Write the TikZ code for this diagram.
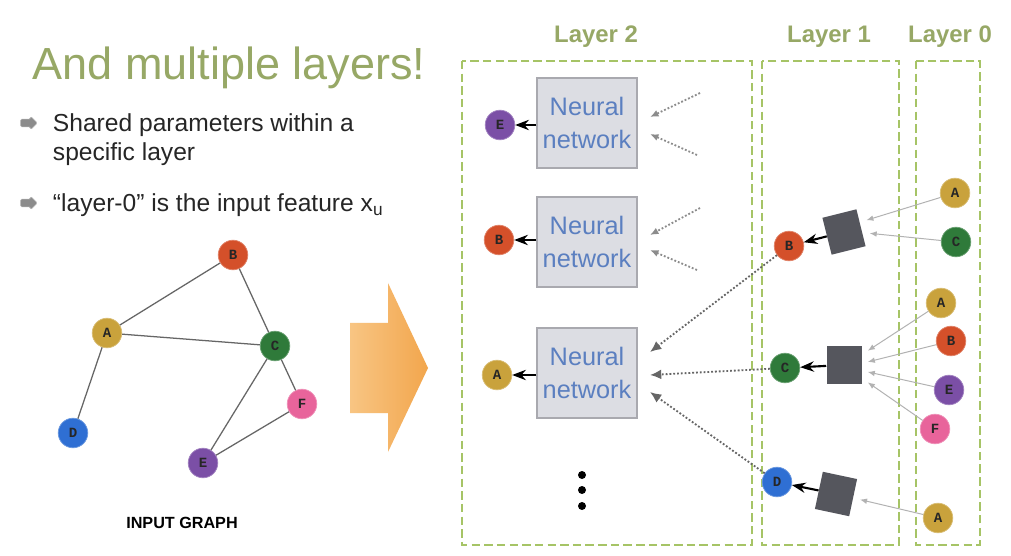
\documentclass[tikz,border=0pt]{standalone}
\usepackage{fontspec}
\setmainfont{Liberation Sans}
\newfontfamily\vlabel{Liberation Mono}
\usetikzlibrary{arrows.meta,calc,shapes.arrows}
\definecolor{ttlgreen}{HTML}{97A866}
\definecolor{boxgreen}{HTML}{A6C466}
\definecolor{colA}{HTML}{C9A23C}
\definecolor{colB}{HTML}{D4502A}
\definecolor{colC}{HTML}{2F7A3A}
\definecolor{colD}{HTML}{2F6FD3}
\definecolor{colE}{HTML}{7B4FA6}
\definecolor{colF}{HTML}{E8649B}
\definecolor{nnfill}{HTML}{DCDDE3}
\definecolor{nnline}{HTML}{A9A9AF}
\definecolor{nntext}{HTML}{5B7FC0}
\definecolor{sqfill}{HTML}{55565D}
\definecolor{arrlight}{HTML}{F8C583}
\definecolor{arrdark}{HTML}{F2A64D}

\begin{document}
\begin{tikzpicture}[x=0.025cm,y=-0.025cm,>=Stealth,
  vtx/.style={circle,fill=#1,draw=#1!70!white,line width=.5pt,minimum size=.74cm,inner sep=0pt,text=black!85,font=\vlabel\bfseries\fontsize{10}{10}\selectfont},
  nnbox/.style={fill=nnfill,draw=nnline,line width=.8pt,minimum width=2.5cm,minimum height=2.25cm,align=center,text=nntext,font=\fontsize{18}{23}\selectfont},
  aggsq/.style={fill=sqfill,minimum width=.875cm,minimum height=.95cm,inner sep=0pt},
  layerbox/.style={boxgreen,line width=1.6pt,dash pattern=on 6pt off 3pt},
  layerlbl/.style={anchor=base,text=ttlgreen,font=\bfseries\fontsize{17}{20}\selectfont},
  bul/.style={anchor=base west,text=black!85,font=\fontsize{17.5}{20}\selectfont},
  bulicon/.style={single arrow,fill=black!45,draw=black!30,line width=.4pt,inner sep=.09cm,minimum height=.42cm,single arrow head extend=.07cm,rounded corners=1pt},
  gedge/.style={black!60,line width=.9pt},
  outarrow/.style={->,line width=1.5pt},
  dotarrow/.style={-{Latex[length=8pt,width=7pt]},black!60,line width=1.3pt,dash pattern=on 1.3pt off 1.4pt},
  inarrow/.style={-{Latex[length=5pt,width=4pt]},black!30,line width=.7pt}]
\useasboundingbox (0,0) rectangle (1011,556);
\fill[white] (0,0) rectangle (1011,556);

\node[anchor=base,text=ttlgreen,font=\fontsize{32}{38}\selectfont] (ttl) at (229,80) {And multiple layers!};
\node[bulicon] (ic1) at (27,123) {};
\node[bul] (b1a) at (48,132) {Shared parameters within a};
\node[bul] (b1b) at (48,161) {specific layer};
\node[bulicon] (ic2) at (27,203) {};
\node[bul] (b2) at (48,212) {“layer-0” is the input feature x\textsubscript{u}};

\node[vtx=colA] (ga) at (107,333) {A};
\node[vtx=colB] (gb) at (233,255) {B};
\node[vtx=colC] (gc) at (275,346) {C};
\node[vtx=colD] (gd) at (73,433) {D};
\node[vtx=colE] (ge) at (203,463) {E};
\node[vtx=colF] (gf) at (302,404) {F};
\draw[gedge] (ga)--(gb) (ga)--(gc) (gb)--(gc) (ga)--(gd) (gc)--(ge) (gc)--(gf) (ge)--(gf);
\node[anchor=base,font=\bfseries\fontsize{11.5}{14}\selectfont] (cap) at (182,528) {INPUT GRAPH};

\shade[left color=arrlight,right color=arrdark] (350,323)--(388,323)--(388,283)--(428,368)--(388,452)--(388,413)--(350,413)--cycle;

\draw[layerbox] (462,61) rectangle (752,545);
\draw[layerbox] (762,61) rectangle (899,545);
\draw[layerbox] (916,61) rectangle (980,545);
\node[layerlbl] (lbl2) at (596,43) {Layer 2};
\node[layerlbl] (lbl1) at (829,43) {Layer 1};
\node[layerlbl] (lbl0) at (950,43) {Layer 0};

\node[nnbox] (nn1) at (587,123) {Neural\\network};
\node[nnbox] (nn2) at (587,242) {Neural\\network};
\node[nnbox] (nn3) at (587,373) {Neural\\network};
\node[vtx=colE] (o2e) at (500,125) {E};
\node[vtx=colB] (o2b) at (499,240) {B};
\node[vtx=colA] (o2a) at (497,375) {A};
\draw[outarrow] (nn1.west|-o2e) -- (o2e);
\draw[outarrow] (nn2.west|-o2b) -- (o2b);
\draw[outarrow] (nn3.west|-o2a) -- (o2a);
\foreach \y in {475,490,506} \fill (582,\y) circle (4);

\coordinate (i1a) at (700,93);  \coordinate (t1a) at (650,117);
\coordinate (i1b) at (697,155); \coordinate (t1b) at (650,134);
\coordinate (i2a) at (700,208); \coordinate (t2a) at (650,235);
\coordinate (i2b) at (697,270); \coordinate (t2b) at (650,250);
\draw[dotarrow,black!45,-{Latex[length=6pt,width=5pt]}] (i1a)--(t1a);
\draw[dotarrow,black!45,-{Latex[length=6pt,width=5pt]}] (i1b)--(t1b);
\draw[dotarrow,black!45,-{Latex[length=6pt,width=5pt]}] (i2a)--(t2a);
\draw[dotarrow,black!45,-{Latex[length=6pt,width=5pt]}] (i2b)--(t2b);

\node[vtx=colB] (l1b) at (789,246) {B};
\node[vtx=colC] (l1c) at (785,368) {C};
\node[vtx=colD] (l1d) at (777,482) {D};
\coordinate (t3a) at (650,352);
\coordinate (t3b) at (650,375);
\coordinate (t3c) at (650,392);
\draw[dotarrow] (l1b)--(t3a);
\draw[dotarrow] (l1c)--(t3b);
\draw[dotarrow] (l1d)--(t3c);

\node[aggsq,rotate=14] (sq1) at (844,232) {};
\node[aggsq] (sq2) at (844,365) {};
\node[aggsq,rotate=-12] (sq3) at (836,494) {};
\draw[outarrow] (sq1) -- (l1b);
\draw[outarrow] (sq2) -- (l1c);
\draw[outarrow] (sq3) -- (l1d);

\node[vtx=colA] (z1a) at (955,193) {A};
\node[vtx=colC] (z1c) at (956,242) {C};
\node[vtx=colA] (z2a) at (941,303) {A};
\node[vtx=colB] (z2b) at (951,341) {B};
\node[vtx=colE] (z2e) at (949,390) {E};
\node[vtx=colF] (z2f) at (935,429) {F};
\node[vtx=colA] (z3a) at (938,518) {A};
\coordinate (s1a) at ($(sq1.north east)!.3!(sq1.south east)+(7,0)$);
\coordinate (s1c) at ($(sq1.north east)!.65!(sq1.south east)+(7,0)$);
\coordinate (s2a) at ($(sq2.north east)!.13!(sq2.south east)+(6,0)$);
\coordinate (s2b) at ($(sq2.north east)!.42!(sq2.south east)+(6,0)$);
\coordinate (s2e) at ($(sq2.north east)!.68!(sq2.south east)+(6,0)$);
\coordinate (s2f) at ($(sq2.north east)!.95!(sq2.south east)+(6,0)$);
\coordinate (s3a) at ($(sq3.north east)!.55!(sq3.south east)+(7,0)$);
\draw[inarrow] (z1a)--(s1a);
\draw[inarrow] (z1c)--(s1c);
\draw[inarrow] (z2a)--(s2a);
\draw[inarrow] (z2b)--(s2b);
\draw[inarrow] (z2e)--(s2e);
\draw[inarrow] (z2f)--(s2f);
\draw[inarrow] (z3a)--(s3a);
\end{tikzpicture}
\end{document}
